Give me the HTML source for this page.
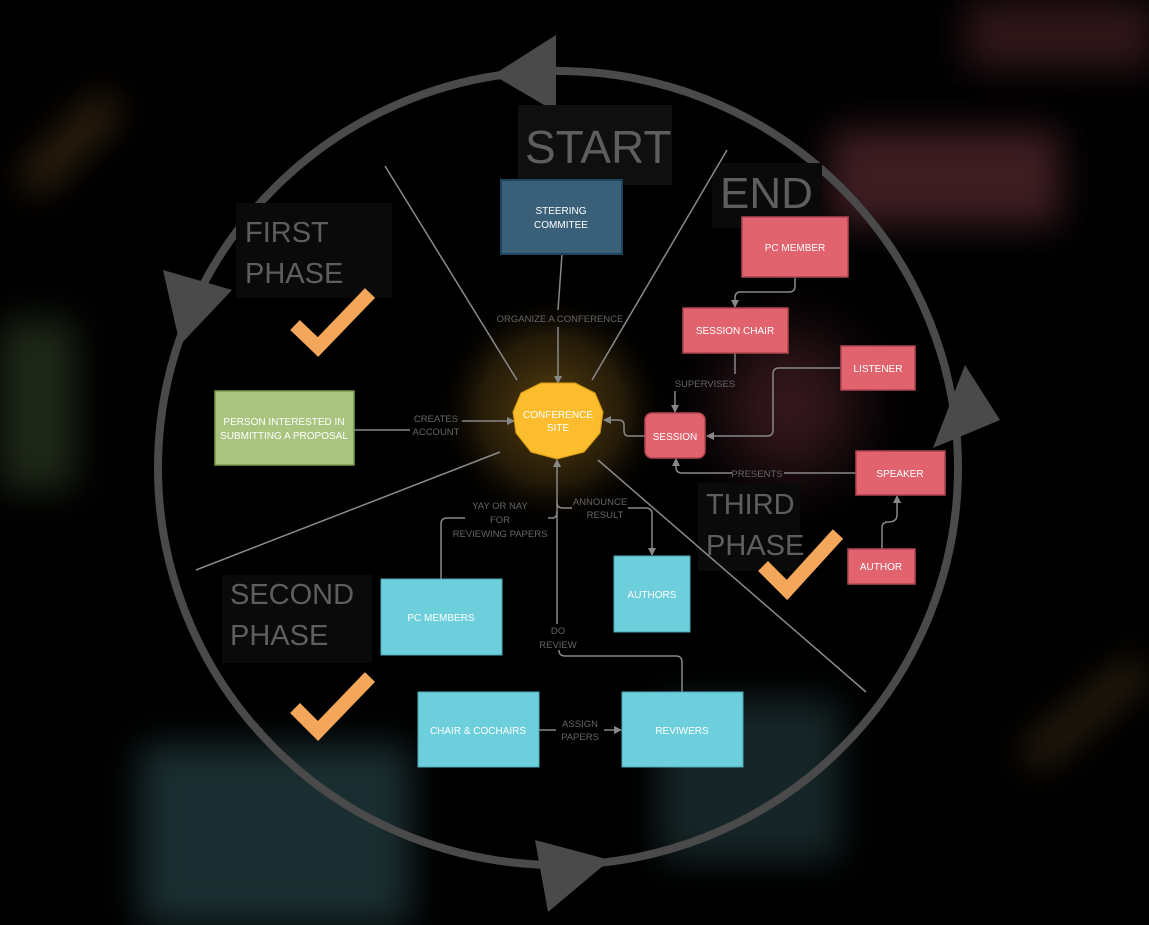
<!DOCTYPE html>
<html><head><meta charset="utf-8"><style>
html,body{margin:0;padding:0;background:#000;}
body{width:1149px;height:919px;overflow:hidden;position:relative;font-family:"Liberation Sans",sans-serif;}
.b{position:absolute;filter:blur(18px);}
svg{position:absolute;left:0;top:0;}
</style></head><body>
<div class="b" style="left:965px;top:0;width:190px;height:70px;background:#2e1518;"></div>
<div class="b" style="left:830px;top:130px;width:230px;height:95px;background:#3e1d22;"></div>
<div class="b" style="left:0;top:320px;width:75px;height:170px;background:#1e2818;"></div>
<div class="b" style="left:140px;top:745px;width:270px;height:180px;background:#1a2e31;"></div>
<div class="b" style="left:660px;top:700px;width:180px;height:160px;background:#162628;"></div>
<div class="b" style="left:10px;top:130px;width:120px;height:28px;background:#3a2812;transform:rotate(-45deg);"></div>
<div class="b" style="left:1010px;top:700px;width:150px;height:28px;background:#2e2210;transform:rotate(-40deg);"></div>
<div class="b" style="left:720px;top:330px;width:140px;height:150px;background:#32161b;border-radius:50%;filter:blur(30px);"></div>
<svg width="1149" height="919" viewBox="0 0 1149 919">
<defs>
<radialGradient id="g" cx="0.5" cy="0.5" r="0.5">
<stop offset="0" stop-color="#6a4e12" stop-opacity="0.85"/>
<stop offset="0.6" stop-color="#3e2d0e" stop-opacity="0.6"/>
<stop offset="1" stop-color="#000" stop-opacity="0"/>
</radialGradient>
<marker id="a" markerWidth="8" markerHeight="8" refX="7" refY="4" orient="auto" markerUnits="userSpaceOnUse"><path d="M0,0 L8,4 L0,8z" fill="#888"/></marker>
</defs>
<circle cx="552" cy="410" r="120" fill="url(#g)"/>
<ellipse cx="558" cy="468" rx="400" ry="397" fill="none" stroke="#4a4a4a" stroke-width="8"/>
<polygon points="493,75 556,35 556,112" fill="#4a4a4a"/>
<polygon points="163,270 232,290 180,345" fill="#4a4a4a"/>
<polygon points="965,365 1000,420 933,448" fill="#4a4a4a"/>
<polygon points="535,840 610,860 548,912" fill="#4a4a4a"/>
<rect x="518" y="105" width="154" height="80" fill="#0f0f0f"/>
<rect x="712" y="163" width="110" height="65" fill="#0a0a0a"/>
<rect x="236" y="203" width="156" height="95" fill="#0a0a0a"/>
<rect x="222" y="575" width="150" height="88" fill="#0a0a0a"/>
<rect x="698" y="483" width="102" height="88" fill="#0a0a0a"/>
<g fill="#5e5e5e" font-family="Liberation Sans, sans-serif">
<text x="525" y="163" font-size="46">START</text>
<text x="720" y="208" font-size="44">END</text>
<text x="245" y="242" font-size="29">FIRST</text>
<text x="245" y="283" font-size="29">PHASE</text>
<text x="230" y="604" font-size="29">SECOND</text>
<text x="230" y="645" font-size="29">PHASE</text>
<text x="706" y="514" font-size="29">THIRD</text>
<text x="706" y="555" font-size="29">PHASE</text>
</g>
<g stroke="#8a8a8a" stroke-width="1.5">
<line x1="385" y1="166" x2="517" y2="380"/>
<line x1="727" y1="150" x2="592" y2="380"/>
<line x1="196" y1="570" x2="500" y2="452"/>
<line x1="598" y1="460" x2="866" y2="692"/>
</g>
<g fill="none" stroke="#f4a65a" stroke-width="14" stroke-linejoin="miter">
<polyline points="295,325 318,347 370,293"/>
<polyline points="295,708 318,731 370,677"/>
<polyline points="763,566 787,590 838,534"/>
</g>
<g fill="none" stroke="#888" stroke-width="1.5">
<line x1="562" y1="254" x2="558" y2="310"/>
<line x1="558" y1="327" x2="558" y2="383" marker-end="url(#a)"/>
<line x1="354" y1="430" x2="410" y2="430"/>
<line x1="462" y1="421" x2="514" y2="421" marker-end="url(#a)"/>
<path d="M645,436 H628 Q624,436 624,430 V425 Q624,420 618,420 H604" marker-end="url(#a)"/>
<path d="M795,277 V286 Q795,292 789,292 H740 Q735,292 735,298 V307" marker-end="url(#a)"/>
<line x1="735" y1="352" x2="735" y2="374"/>
<line x1="675" y1="391" x2="675" y2="412" marker-end="url(#a)"/>
<path d="M841,368 H779 Q773,368 773,374 V430 Q773,436 767,436 H707" marker-end="url(#a)"/>
<path d="M856,473 H784"/>
<path d="M732,473 H682 Q676,473 676,467 V459" marker-end="url(#a)"/>
<path d="M882,549 V528 Q882,522 888,522 Q897,522 897,515 V496" marker-end="url(#a)"/>
<path d="M441,579 V524 Q441,518 447,518 H465"/>
<path d="M548,518 H552 Q557,518 557,512"/>
<line x1="557" y1="624" x2="557" y2="460" marker-end="url(#a)"/>
<path d="M557,503 Q557,508 563,508 H572"/>
<path d="M628,508 H646 Q652,508 652,514 V555" marker-end="url(#a)"/>
<path d="M682,692 V662 Q682,656 676,656 H565 Q559,656 559,650"/>
<line x1="539" y1="730" x2="556" y2="730"/>
<line x1="604" y1="730" x2="621" y2="730" marker-end="url(#a)"/>
</g>
<g fill="#666" font-size="9.5" font-family="Liberation Sans, sans-serif" text-anchor="middle">
<text x="560" y="322">ORGANIZE A CONFERENCE</text>
<text x="436" y="422">CREATES</text>
<text x="436" y="435">ACCOUNT</text>
<text x="705" y="387">SUPERVISES</text>
<text x="757" y="477">PRESENTS</text>
<text x="500" y="509">YAY OR NAY</text>
<text x="500" y="523">FOR</text>
<text x="500" y="537">REVIEWING PAPERS</text>
<text x="600" y="505">ANNOUNCE</text>
<text x="605" y="518">RESULT</text>
<text x="558" y="634">DO</text>
<text x="558" y="648">REVIEW</text>
<text x="580" y="727">ASSIGN</text>
<text x="580" y="740">PAPERS</text>
</g>
<rect x="501" y="180" width="121" height="74" fill="#3a5f78" stroke="#1e4560" stroke-width="2"/>
<rect x="742" y="217" width="106" height="60" fill="#e0636d" stroke="#b04550" stroke-width="1.5"/>
<rect x="683" y="308" width="105" height="45" fill="#e0636d" stroke="#b04550" stroke-width="1.5"/>
<rect x="841" y="346" width="74" height="44" fill="#e0636d" stroke="#b04550" stroke-width="1.5"/>
<rect x="645" y="413" width="60" height="45" rx="7" fill="#e0636d" stroke="#b04550" stroke-width="1.5"/>
<rect x="856" y="451" width="89" height="44" fill="#e0636d" stroke="#b04550" stroke-width="1.5"/>
<rect x="848" y="549" width="67" height="35" fill="#e0636d" stroke="#b04550" stroke-width="1.5"/>
<rect x="215" y="391" width="139" height="74" fill="#a9c47f" stroke="#7a9a4f" stroke-width="1.5"/>
<polygon points="575,383 595,393 603,412 600,433 584,452 557,459 531,452 516,433 513,412 521,393 541,383" fill="#fbbd2e" stroke="#d99a10" stroke-width="1"/>
<rect x="381" y="579" width="121" height="76" fill="#6dcfdb" stroke="#4aa8b5" stroke-width="1"/>
<rect x="614" y="556" width="76" height="76" fill="#6dcfdb" stroke="#4aa8b5" stroke-width="1"/>
<rect x="418" y="692" width="121" height="75" fill="#6dcfdb" stroke="#4aa8b5" stroke-width="1"/>
<rect x="622" y="692" width="121" height="75" fill="#6dcfdb" stroke="#4aa8b5" stroke-width="1"/>
<g fill="#fff" font-size="10" font-family="Liberation Sans, sans-serif" text-anchor="middle">
<text x="561" y="214">STEERING</text>
<text x="561" y="228">COMMITEE</text>
<text x="795" y="251">PC MEMBER</text>
<text x="735" y="334">SESSION CHAIR</text>
<text x="878" y="372">LISTENER</text>
<text x="675" y="440">SESSION</text>
<text x="900" y="477">SPEAKER</text>
<text x="881" y="570">AUTHOR</text>
<text x="284" y="425">PERSON INTERESTED IN</text>
<text x="284" y="439">SUBMITTING A PROPOSAL</text>
<text x="558" y="418">CONFERENCE</text>
<text x="558" y="431">SITE</text>
<text x="441" y="621">PC MEMBERS</text>
<text x="652" y="598">AUTHORS</text>
<text x="478" y="734">CHAIR &amp; COCHAIRS</text>
<text x="682" y="734">REVIWERS</text>
</g>
</svg>
</body></html>
